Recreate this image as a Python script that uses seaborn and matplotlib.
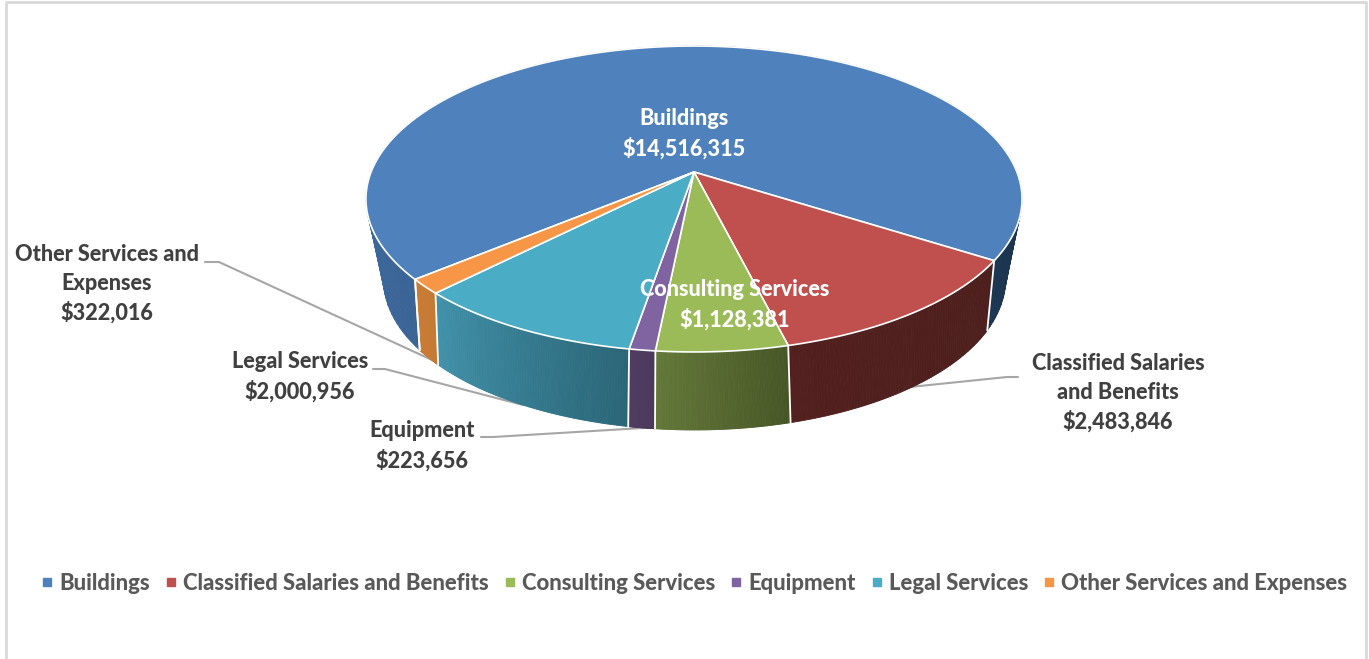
import numpy as np
import matplotlib
matplotlib.use("Agg")
import matplotlib.pyplot as plt
import seaborn as sns
from matplotlib.collections import PolyCollection
from matplotlib.colors import to_rgb
from matplotlib.lines import Line2D
from matplotlib.path import Path
from matplotlib.transforms import Affine2D, Transform

categories = ["Buildings", "Classified Salaries and Benefits", "Consulting Services",
              "Equipment", "Legal Services", "Other Services and Expenses"]
values = [14516315, 2483846, 1128381, 223656, 2000956, 322016]
top_colors = ["#4f81bd", "#c0504d", "#9bbb59", "#8064a2", "#4bacc6", "#f79646"]
# side wall colours, left end and right end of each slice
wall_left = ["#1c3551", "#52201e", "#647839", "#503d62", "#4192aa", "#c97c36"]
wall_right = ["#1c3551", "#4c1f1d", "#465626", "#4c3a5c", "#2b6678", "#c57a34"]
back_left = "#3b6596"
back_right = "#4070a9"


class Tilt(Transform):
    # unit circle -> perspective ellipse in pixel coordinates
    input_dims = 2
    output_dims = 2

    def __init__(self, x0, y0, cx, a, k):
        super().__init__()
        self.p = (x0, y0, cx, a, k)

    def transform_non_affine(self, xy):
        x0, y0, cx, a, k = self.p
        xy = np.asarray(xy)
        d = 1 + k * xy[:, 1]
        return np.column_stack([x0 + cx * xy[:, 0] / d, y0 - a * xy[:, 1] / d])

    def transform_path_non_affine(self, path):
        fine = Affine2D().scale(2000).transform_path(path).to_polygons(closed_only=False)
        return Path(self.transform_non_affine(fine[0] / 2000))


top_face = Tilt(694, 172, 322.9, 148.2, 0.1765)
bottom_face = Tilt(694.5, 242.5, 301, 140.6, 0.25)


def circle(theta):
    r = np.radians(theta)
    return np.column_stack([np.cos(r), np.sin(r)])


def wall(ax, th_left, th_right, c_left, c_right, n=80):
    th = np.linspace(th_left, th_right, n + 1)
    up = top_face.transform_non_affine(circle(th))
    lo = bottom_face.transform_non_affine(circle(th))
    quads = [[up[i], up[i + 1], lo[i + 1], lo[i]] for i in range(n)]
    f = np.linspace(0, 1, n)[:, None]
    cols = np.array(to_rgb(c_left)) * (1 - f) + np.array(to_rgb(c_right)) * f
    ax.add_collection(PolyCollection(quads, facecolors=cols, edgecolors=cols, linewidths=0.6, zorder=2))


def edge(ax, theta):
    up = top_face.transform_non_affine(circle([theta]))[0]
    lo = bottom_face.transform_non_affine(circle([theta]))[0]
    ax.plot([up[0], lo[0]], [up[1], lo[1]], color="white", lw=1.3, zorder=3)


sns.set_theme(style="white")
plt.rcParams["font.family"] = ["Lato", "DejaVu Sans"]
palette = sns.color_palette(top_colors)

fig = plt.figure(figsize=(13.69, 6.59), dpi=100)
ax = fig.add_axes([0, 0, 1, 1])

wedges, _ = ax.pie(values, colors=palette, startangle=220, counterclock=False,
                   wedgeprops={"edgecolor": "white", "linewidth": 1.2, "zorder": 4})
for w in wedges:
    w.set_transform(top_face + ax.transData)

# side walls, built from the angles the pie worked out
b = wedges[0]
wall(ax, b.theta2, 90, back_left, back_right)
wall(ax, 90, b.theta1, wall_left[0], wall_right[0])
for w, cl, cr in zip(wedges[1:], wall_left[1:], wall_right[1:]):
    wall(ax, w.theta1, w.theta2, cl, cr)
for w in wedges:
    edge(ax, w.theta1)
edge(ax, b.theta2)

# leader lines
leaders = [([205, 219, 432], [262, 262, 360]),
           ([373, 385, 523], [369, 369, 405]),
           ([481, 493, 643], [437, 437, 428]),
           ([1018, 1007, 910], [377, 377, 387])]
for lx, ly in leaders:
    ax.plot(lx, ly, color="#a6a6a6", lw=1.5, zorder=1)

label_font = 15.6
for txt, x, y, col in [("Buildings\n$14,516,315", 684, 134, "white"),
                       ("Consulting Services\n$1,128,381", 735, 305, "white"),
                       ("Classified Salaries\nand Benefits\n$2,483,846", 1118, 393, "#404040"),
                       ("Other Services and\nExpenses\n$322,016", 107, 284, "#404040"),
                       ("Legal Services\n$2,000,956", 300, 377, "#404040"),
                       ("Equipment\n$223,656", 422, 446, "#404040")]:
    ax.text(x, y, txt, color=col, fontsize=label_font, fontweight=900, ha="center",
            va="center", linespacing=1.42, zorder=6)

handles = [Line2D([], [], ls="", marker="s", ms=6, color=c) for c in palette]
leg = ax.legend(handles, categories, loc="center", bbox_to_anchor=(695, 583.5), ncol=6,
                bbox_transform=ax.transData, frameon=False, handlelength=0.4,
                handletextpad=0.35, columnspacing=0.75, labelcolor="#595959",
                prop={"weight": 900, "size": 15.9})

# chart frame, no line along the bottom
ax.plot([5.5, 5.5, 1365.5, 1365.5], [659, 1.5, 1.5, 659], color="#d9d9d9", lw=2, zorder=0)

ax.set_aspect("auto")
ax.set_xlim(0, 1369)
ax.set_ylim(659, 0)
ax.axis("off")
fig.savefig("out.png", dpi=100, facecolor="white")
